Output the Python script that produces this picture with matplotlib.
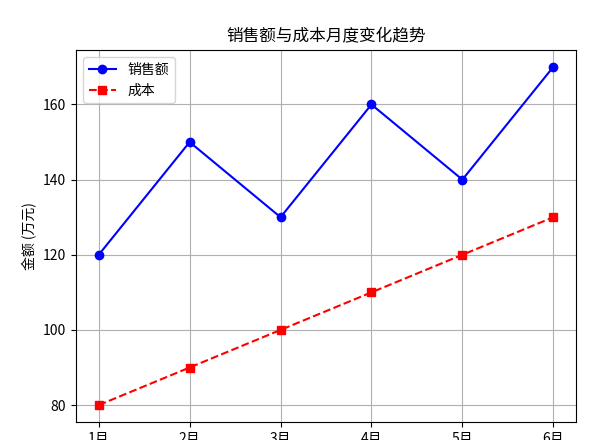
import matplotlib
matplotlib.use('Agg')
import matplotlib.pyplot as plt

# 数据
months = ['1月', '2月', '3月', '4月', '5月', '6月']
sales = [120, 150, 130, 160, 140, 170]
cost = [80, 90, 100, 110, 120, 130]

plt.rcParams['font.family'] = ['Noto Sans CJK SC', 'DejaVu Sans']
plt.rcParams['axes.unicode_minus'] = False

fig = plt.figure(figsize=(6.15, 4.4), dpi=100)
ax = fig.add_axes([76 / 615, 1 - 422 / 440, 500 / 615, 372 / 440])

ax.plot(months, sales, 'b-o', label='销售额')
ax.plot(months, cost, 'r--s', label='成本')
ax.set_title('销售额与成本月度变化趋势')
ax.set_ylabel('金额 (万元)')
ax.legend(loc='upper left')
ax.grid(True)

fig.savefig('out.png', dpi=100)
